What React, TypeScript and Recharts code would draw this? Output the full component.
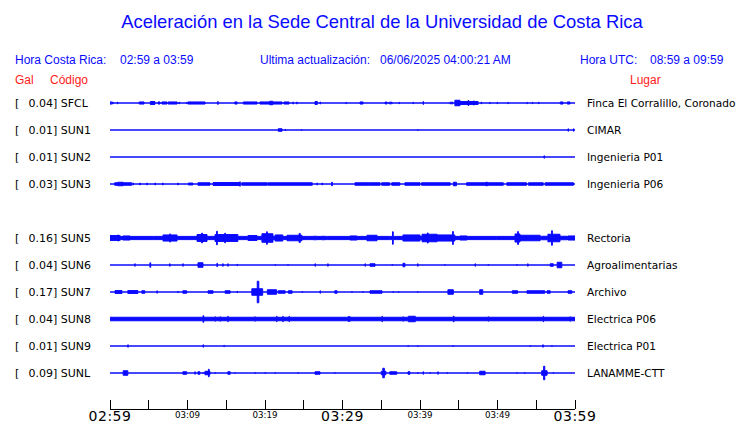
import { ComposedChart, Area, XAxis, YAxis } from 'recharts'

// stations, top to bottom (slot 4 is an empty row in the original)
const codes = ['SFCL', 'SUN1', 'SUN2', 'SUN3', 'SUN5', 'SUN6', 'SUN7', 'SUN8', 'SUN9', 'SUNL']
const gals = [0.04, 0.01, 0.01, 0.03, 0.16, 0.04, 0.17, 0.04, 0.01, 0.09]
const places = [
  'Finca El Corralillo, Coronado', 'CIMAR', 'Ingenieria P01', 'Ingenieria P06', 'Rectoria',
  'Agroalimentarias', 'Archivo', 'Electrica P06', 'Electrica P01', 'LANAMME-CTT',
]
const slots = [0, 1, 2, 3, 5, 6, 7, 8, 9, 10]
// background noise half-width (px) of each trace
const noise = [0, 0, 0, 0, 1.85, 0, 0, 2, 0, 0]

const minuteTicks = [0, 5, 10, 15, 20, 25, 30, 35, 40, 45, 50, 55, 60]
const tickLabels = ['02:59', '', '03:09', '', '03:19', '', '03:29', '', '03:39', '', '03:49', '', '03:59']
const bigLabels = ['02:59', '03:29', '03:59']

// bursts: [start min, end min, half amplitude px]
const sfcl = [[0.1, 0.15, 1.7], [0.35, 0.4, 1.3], [0.95, 1.0, 1.2], [3.77, 4.39, 1.3], [5.2, 5.8, 1.7], [6.2, 6.45, 1.3], [6.7, 7.35, 1.3], [7.5, 8.65, 1.3], [8.9, 8.95, 1.2], [9.9, 9.95, 1], [10.05, 12.26, 1.3], [13.9, 13.95, 1.7], [16.1, 16.4, 1.3], [17.2, 18.97, 1.3], [19.35, 20.6, 1.3], [20.6, 21.0, 2], [21.0, 22.2, 1.3], [22.45, 23.1, 1.3], [23.6, 23.65, 1.3], [24.1, 24.15, 1.3], [26.45, 26.75, 1.7], [27.1, 27.15, 1.3], [30.45, 30.5, 1], [32.26, 32.65, 1.3], [35.5, 35.75, 1.2], [36.0, 36.4, 1], [37.3, 37.35, 1], [39.1, 39.15, 1], [40.4, 40.45, 1.7], [43.87, 44.26, 1], [44.5, 45.16, 3], [45.16, 46.2, 1.7], [46.2, 46.3, 2.7], [46.3, 46.9, 1.7], [46.9, 47.0, 2.3], [47.0, 47.5, 1.7], [47.9, 47.95, 1.2], [49.0, 49.05, 1], [49.95, 50.0, 1], [51.35, 51.4, 1], [53.8, 53.85, 1], [54.5, 54.55, 1], [55.3, 55.35, 1], [58.1, 58.45, 1.3], [59.0, 59.35, 1.3]]
const sun1 = [[21.7, 22.2, 1.5], [22.6, 22.65, 1], [24.7, 24.75, 0.8], [39.7, 39.75, 0.8], [59.1, 59.15, 1.5], [59.8, 59.85, 1.5]]
const sun2 = [[56.0, 56.05, 1.5]]
const sun3 = [[0.6, 1.0, 1.5], [1.0, 1.7, 2], [1.7, 2.8, 1.5], [2.95, 3.0, 1.3], [3.85, 3.9, 1.3], [4.75, 4.8, 1.3], [5.8, 5.85, 1.3], [6.8, 6.85, 1.3], [8.75, 8.8, 1.3], [10.1, 10.7, 1.2], [11.35, 12.9, 1.5], [13.3, 16.7, 1.7], [16.75, 16.8, 2.5], [17.0, 20.3, 1.5], [20.4, 26.1, 1.5], [26.7, 26.75, 1.3], [27.35, 27.4, 1.3], [28.6, 28.7, 2], [31.6, 33.5, 1.5], [33.55, 34.85, 1.5], [35.05, 36.1, 1.5], [36.35, 37.4, 1.5], [38.05, 40.0, 1.5], [40.2, 43.9, 1.5], [44.3, 44.7, 2], [46.0, 48.5, 1.5], [48.5, 48.7, 2], [48.7, 50.75, 1.5], [51.2, 53.75, 1.5], [54.0, 55.9, 1.5], [56.15, 59.8, 1.5]]
const sun5 = [[0, 1.0, 2.7], [1.0, 1.1, 3.3], [1.1, 1.3, 2.7], [1.68, 2.58, 2.3], [2.84, 3.23, 1.5], [5.55, 5.6, 1.7], [6.84, 7.7, 3.3], [7.7, 7.8, 4.3], [7.8, 8.65, 3.3], [9.94, 10.32, 1.6], [11.23, 11.8, 3.7], [11.8, 11.95, 5], [11.95, 12.52, 3.7], [13.55, 13.75, 3.7], [13.75, 13.85, 7], [13.85, 14.8, 3.7], [14.8, 14.9, 5], [14.9, 16.5, 3.7], [17.0, 17.05, 2], [17.8, 18.97, 2.7], [19.6, 20.2, 4.5], [20.2, 20.3, 6.5], [20.3, 21.03, 4.5], [21.3, 22.3, 3.3], [22.84, 24.4, 3], [24.4, 24.55, 4.7], [24.55, 24.77, 3], [25.4, 25.8, 1.7], [26.2, 26.7, 2], [27.35, 27.74, 2], [28.1, 28.4, 1.5], [30.97, 31.87, 2.3], [32.0, 32.9, 1.7], [33.16, 34.45, 3], [34.84, 35.74, 1.5], [36.1, 36.15, 1.5], [36.45, 36.55, 6.5], [37.0, 37.7, 1.7], [37.8, 40.0, 3.3], [40.26, 40.95, 4], [40.95, 41.05, 5.3], [41.05, 42.2, 4], [42.2, 44.2, 3.3], [44.2, 44.3, 6.7], [44.3, 44.5, 3.3], [45.16, 46.06, 2.3], [46.2, 48.65, 1.7], [49.9, 52.0, 1.5], [52.26, 52.6, 4.3], [52.6, 52.7, 6.7], [52.7, 52.9, 4.3], [52.9, 55.5, 3], [55.7, 56.4, 2], [56.5, 56.98, 4], [56.98, 57.08, 7.5], [57.08, 58.06, 4], [58.06, 58.97, 2], [59.1, 60, 2.3]]
const sun6 = [[3.2, 3.25, 1.5], [5.15, 5.25, 2.5], [7.7, 7.75, 1.5], [9.4, 9.45, 1.5], [11.35, 12.0, 2.5], [13.8, 13.85, 2], [14.55, 14.6, 1.5], [15.2, 15.25, 1.5], [16.4, 16.45, 1], [21.3, 21.35, 0.8], [22.95, 23.0, 0.8], [26.45, 26.5, 1.5], [28.1, 28.15, 1.5], [32.9, 32.95, 1.5], [33.55, 34.2, 1.5], [36.4, 36.45, 0.8], [37.8, 38.05, 2], [39.7, 39.75, 1.5], [43.2, 43.25, 0.8], [47.1, 47.15, 1.5], [48.8, 48.85, 0.8], [52.5, 52.55, 0.8], [53.9, 53.95, 1.5], [56.8, 57.2, 1.5], [57.7, 58.3, 3]]
const sun7 = [[0.65, 1.55, 1.7], [2.3, 3.6, 1.7], [4.1, 4.5, 1.5], [6.05, 6.1, 1.5], [8.75, 8.8, 1], [9.4, 9.9, 1.5], [12.65, 13.3, 1.5], [14.85, 15.5, 1.5], [16.4, 16.45, 1], [18.3, 19.0, 3.5], [19.0, 19.2, 11], [19.2, 19.7, 3.5], [20.3, 21.5, 2.5], [21.7, 22.6, 1.5], [23.0, 23.5, 1.5], [24.8, 24.85, 0.8], [27.1, 27.15, 1.5], [29.0, 29.3, 1.5], [31.2, 31.25, 0.8], [32.6, 32.65, 0.8], [33.55, 35.1, 1.5], [36.5, 36.55, 0.8], [37.2, 37.25, 0.8], [39.7, 39.75, 0.8], [43.6, 44.3, 2.5], [47.7, 48.1, 2.5], [51.9, 52.6, 1.5], [53.8, 56.1, 1.5], [56.4, 56.8, 1.5], [59.1, 59.6, 1.5]]
const sun8 = [[12.0, 12.1, 3.5], [13.55, 13.6, 2.5], [14.2, 14.25, 2.5], [15.2, 15.25, 3], [18.7, 18.75, 2.5], [21.5, 21.55, 3], [22.3, 22.35, 3], [23.1, 23.15, 3], [30.7, 31.0, 2.5], [35.1, 35.15, 3], [37.8, 37.85, 2.5], [38.5, 39.4, 3], [44.3, 44.4, 3], [48.8, 48.85, 2.5], [55.9, 55.95, 3], [59.35, 59.4, 2.5]]
const sun9 = [[2.3, 2.35, 1.5], [12.0, 12.05, 1.5], [14.7, 14.75, 1], [38.45, 38.5, 0.8], [39.7, 39.75, 0.8], [44.25, 44.3, 0.8], [54.2, 54.25, 0.8], [55.85, 55.9, 1.5], [57.0, 57.05, 0.8]]
const sunl = [[1.7, 2.3, 2.5], [9.4, 9.9, 1.5], [10.95, 11.0, 1.5], [11.35, 11.6, 1.5], [12.0, 12.05, 0.8], [12.25, 12.7, 2], [12.7, 12.8, 4], [12.8, 12.9, 2], [13.55, 13.6, 0.8], [15.2, 15.5, 1.5], [16.1, 16.15, 0.8], [18.7, 18.75, 0.8], [20.0, 20.05, 0.8], [21.3, 21.35, 0.8], [24.25, 24.3, 0.8], [26.45, 27.1, 1.5], [29.0, 29.05, 0.8], [35.0, 35.2, 2], [35.2, 35.4, 5], [35.4, 35.6, 2], [36.1, 37.0, 1.5], [38.45, 38.7, 1.5], [39.7, 39.75, 0.8], [40.4, 40.45, 1.5], [41.3, 41.35, 0.8], [42.3, 42.35, 1.5], [43.5, 43.55, 0.8], [46.1, 46.15, 0.8], [47.7, 48.4, 2], [52.5, 52.55, 0.8], [53.5, 53.55, 0.8], [55.7, 55.95, 2.5], [55.95, 56.1, 7], [56.1, 56.4, 2.5], [57.2, 57.25, 0.8]]

const bursts = [sfcl, sun1, sun2, sun3, sun5, sun6, sun7, sun8, sun9, sunl]

const ROW = 27
const STROKE_HALF = 0.25
const BLUE = '#0a0aff'
const RED = '#ff1a1a'

function trace(events: number[][], base: number, slot: number) {
  const b = -slot * ROW
  const q = Math.max(base - STROKE_HALF, 0)
  const quiet = [b - q, b + q]
  const pts: { t: number; band: number[] }[] = [{ t: 0, band: quiet }]
  for (const [t0, t1, a] of events) {
    const amp = Math.max(a - STROKE_HALF, q, 0.3)
    pts.push({ t: t0, band: quiet }, { t: t0, band: [b - amp, b + amp] }, { t: t1, band: [b - amp, b + amp] }, { t: t1, band: quiet })
  }
  pts.push({ t: 60, band: quiet })
  return pts
}

const rowTicks = slots.map((s) => -s * ROW)

const LeftLabel = ({ y, index }: any) => (
  <g fontFamily="DejaVu Sans" fontSize={11} fill="#000">
    <text x={15} y={y + 4}>[</text>
    <text x={53} y={y + 4} textAnchor="end">{gals[index].toFixed(2)}</text>
    <text x={53} y={y + 4}>] {codes[index]}</text>
  </g>
)

const RightLabel = ({ y, index }: any) => (
  <text x={587} y={y + 4} fontFamily="DejaVu Sans" fontSize={10.6} fill="#000">{places[index]}</text>
)

const TimeTick = ({ x, y, index }: any) => {
  const label = tickLabels[index]
  const big = bigLabels.includes(label)
  return (
    <g>
      <line x1={x} x2={x} y1={y - 9} y2={y} stroke="#000" shapeRendering="crispEdges" />
      {label && (
        <text x={x} y={big ? y + 12 : y + 9} textAnchor="middle" fontFamily="DejaVu Sans"
          fontSize={big ? 14 : 8.7} letterSpacing={big ? 0.5 : 0} fill="#000">
          {label}
        </text>
      )}
    </g>
  )
}

export default function App() {
  return (
    <div style={{ position: 'absolute', left: 0, top: 0, width: 740, height: 423, background: '#fff' }}>
      <svg width={740} height={423} style={{ position: 'absolute', left: 0, top: 0 }} fontFamily="Liberation Sans">
        <text x={382} y={28} textAnchor="middle" fontSize={18.4} fill={BLUE}>
          Aceleración en la Sede Central de la Universidad de Costa Rica
        </text>
        <g fontSize={12} fill={BLUE}>
          <text x={15} y={64}>Hora Costa Rica:</text>
          <text x={120} y={64}>02:59 a 03:59</text>
          <text x={260} y={64}>Ultima actualización:</text>
          <text x={380} y={64}>06/06/2025 04:00:21 AM</text>
          <text x={580} y={64}>Hora UTC:</text>
          <text x={650} y={64}>08:59 a 09:59</text>
        </g>
        <g fontSize={12} fill={RED}>
          <text x={15} y={84}>Gal</text>
          <text x={50} y={84}>Código</text>
          <text x={630} y={84}>Lugar</text>
        </g>
      </svg>
      <div style={{ position: 'absolute', left: 0, top: 0 }}>
        <ComposedChart width={740} height={423} margin={{ top: 82, right: 0, bottom: 0, left: 0 }}>
          <XAxis dataKey="t" type="number" domain={[0, 60]} ticks={minuteTicks} interval={0}
            height={14} tickSize={0} tickMargin={0} tickLine={false} tick={<TimeTick />}
            axisLine={{ stroke: '#000', shapeRendering: 'crispEdges' }} allowDataOverflow />
          <YAxis yAxisId="left" type="number" domain={[-306, 21]} ticks={rowTicks} interval={0}
            width={110} axisLine={false} tickLine={false} tick={<LeftLabel />} allowDataOverflow />
          <YAxis yAxisId="right" orientation="right" type="number" domain={[-306, 21]} ticks={rowTicks} interval={0}
            width={165} axisLine={false} tickLine={false} tick={<RightLabel />} allowDataOverflow />
          {bursts.map((ev, i) => (
            <Area key={codes[i]} yAxisId="left" data={trace(ev, noise[i], slots[i])} dataKey="band"
              type="linear" stroke={BLUE} fill={BLUE} fillOpacity={1} strokeWidth={1}
              dot={false} activeDot={false} isAnimationActive={false} />
          ))}
        </ComposedChart>
      </div>
    </div>
  )
}
